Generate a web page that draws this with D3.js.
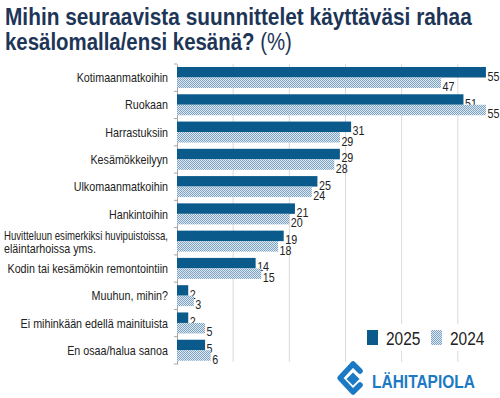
<!DOCTYPE html>
<html>
<head>
<meta charset="utf-8">
<script src="https://cdn.jsdelivr.net/npm/d3@7"></script>
<style>
  body { margin: 0; background: #fff; }
  svg { display: block; }
  text { font-family: "Liberation Sans", Arial, sans-serif; }
</style>
</head>
<body>
<svg id="chart" width="500" height="398"></svg>
<script>
const categories = [
  "Kotimaanmatkoihin",
  "Ruokaan",
  "Harrastuksiin",
  "Kesämökkeilyyn",
  "Ulkomaanmatkoihin",
  "Hankintoihin",
  "Huvitteluun esimerkiksi huvipuistoissa,|eläintarhoissa yms.",
  "Kodin tai kesämökin remontointiin",
  "Muuhun, mihin?",
  "Ei mihinkään edellä mainituista",
  "En osaa/halua sanoa"
];
const values2025 = [55, 51, 31, 29, 25, 21, 19, 14, 2, 2, 5];
const values2024 = [47, 55, 29, 28, 24, 20, 18, 15, 3, 5, 6];
const seriesNames = ["2025", "2024"];
const xTicks = [0, 10, 20, 30, 40, 50, 60];

const svg = d3.select("#chart");
const narrow = 0.86; // fake condensed font

// condensed text helper
function ntext(g, x, y, str, size, anchor, maxW) {
  const t = g.append("text")
    .attr("transform", `translate(${x},${y}) scale(${narrow},1)`)
    .attr("text-anchor", anchor || "start")
    .attr("fill", "#222")
    .style("font-size", size + "px")
    .text(str);
  const w = t.node().getComputedTextLength() * narrow;
  if (maxW && w > maxW) {
    t.attr("transform", `translate(${x},${y}) scale(${narrow * maxW / w},1)`);
    return maxW;
  }
  return w;
}

// squeeze a text element to a given width
function fitWidth(t, x, y, width) {
  const w = t.node().getComputedTextLength();
  t.attr("transform", `translate(${x},${y}) scale(${width / w},1)`);
}

// pattern for 2024 (fine checker / diagonal texture)
const defs = svg.append("defs");
const pat = defs.append("pattern")
  .attr("id", "hatch")
  .attr("patternUnits", "userSpaceOnUse")
  .attr("width", 2).attr("height", 2);
pat.append("rect").attr("width", 2).attr("height", 2).attr("fill", "#dde8f1");
pat.append("rect").attr("x", 0).attr("y", 0).attr("width", 1).attr("height", 1).attr("fill", "#7ea2c2");
pat.append("rect").attr("x", 1).attr("y", 1).attr("width", 1).attr("height", 1).attr("fill", "#7ea2c2");

// title
const title1 = svg.append("text")
  .attr("fill", "#1d3557")
  .style("font-size", "24px").style("font-weight", "bold")
  .text("Mihin seuraavista suunnittelet käyttäväsi rahaa");
fitWidth(title1, 5, 25, 467);
const title2 = svg.append("text")
  .attr("fill", "#1d3557")
  .style("font-size", "24px").style("font-weight", "bold");
title2.append("tspan").text("kesälomalla/ensi kesänä? ");
title2.append("tspan").style("font-weight", "normal").text("(%)");
fitWidth(title2, 5, 50, 287);

const x = d3.scaleLinear().domain([0, 60]).range([177, 514]);
const y = d3.scaleBand().domain(categories).range([64, 364]);
const ySub = d3.scaleBand().domain(seriesNames).range([3, 24]);

// gridlines
svg.append("g")
  .selectAll("line")
  .data(xTicks.slice(1))
  .join("line")
  .attr("x1", d => x(d)).attr("x2", d => x(d))
  .attr("y1", 64).attr("y2", 362)
  .attr("stroke", "#d9d9d9").attr("stroke-width", 1);

// y axis
const yAxis = d3.axisLeft(y).tickSize(0).tickFormat("");
const yAxisG = svg.append("g")
  .attr("transform", `translate(${x(0)},0)`)
  .call(yAxis);
yAxisG.select(".domain").attr("stroke", "#a6a6a6");
svg.append("g")
  .selectAll("line")
  .data(d3.range(categories.length + 1))
  .join("line")
  .attr("x1", x(0) - 3).attr("x2", x(0))
  .attr("y1", i => 64 + i * y.step())
  .attr("y2", i => 64 + i * y.step())
  .attr("stroke", "#a6a6a6");

// category labels
const labels = svg.append("g");
categories.forEach(c => {
  const lines = c.split("|");
  const cy = y(c) + y.bandwidth() / 2;
  if (lines.length === 1) {
    ntext(labels, 168, cy + 4.5, c, 12.5, "end");
  } else {
    const w = ntext(labels, 168, cy - 1.5, lines[0], 12.5, "end", 164);
    ntext(labels, 168 - w, cy + 11.5, lines[1], 12.5, "start", 164);
  }
});

// bars
const rows = categories.map((c, i) => ({cat: c, v: [values2025[i], values2024[i]]}));
const barG = svg.append("g");
rows.forEach(r => {
  seriesNames.forEach((s, j) => {
    const by = y(r.cat) + ySub(s);
    barG.append("rect")
      .attr("x", x(0)).attr("y", by)
      .attr("width", x(r.v[j]) - x(0))
      .attr("height", ySub.bandwidth())
      .attr("fill", j === 0 ? "#0b5a8c" : "url(#hatch)");
    ntext(barG, x(r.v[j]) + 1.5, by + ySub.bandwidth() + 3, r.v[j], 12.5, "start");
  });
});

// legend
const leg = svg.append("g");
leg.append("rect").attr("x", 356).attr("y", 324).attr("width", 132).attr("height", 27).attr("fill", "#fff");
const legX = [367, 431];
seriesNames.forEach((s, j) => {
  leg.append("rect")
    .attr("x", legX[j]).attr("y", 330)
    .attr("width", 11).attr("height", 15)
    .attr("fill", j === 0 ? "#0b5a8c" : "url(#hatch)");
  ntext(leg, legX[j] + 19, 345, s, 18, "start");
});

// logo
const logo = svg.append("g").attr("transform", "translate(353,379)");
logo.append("path")
  .attr("d", "M7,-8 L0,-15 L-13,-1 L0,13 L7,6")
  .attr("fill", "none").attr("stroke", "#1c7ac4").attr("stroke-width", 5.5)
  .attr("stroke-linejoin", "round").attr("stroke-linecap", "round");
logo.append("path")
  .attr("d", "M0,-6.5 L6.5,0 L0,6.5 L-6.5,0 Z")
  .attr("fill", "#1c7ac4");
const logoText = svg.append("text")
  .attr("fill", "#1c7ac4")
  .style("font-size", "19px").style("font-weight", "bold")
  .text("LÄHITAPIOLA");
fitWidth(logoText, 372, 388, 103);
</script>
</body>
</html>
